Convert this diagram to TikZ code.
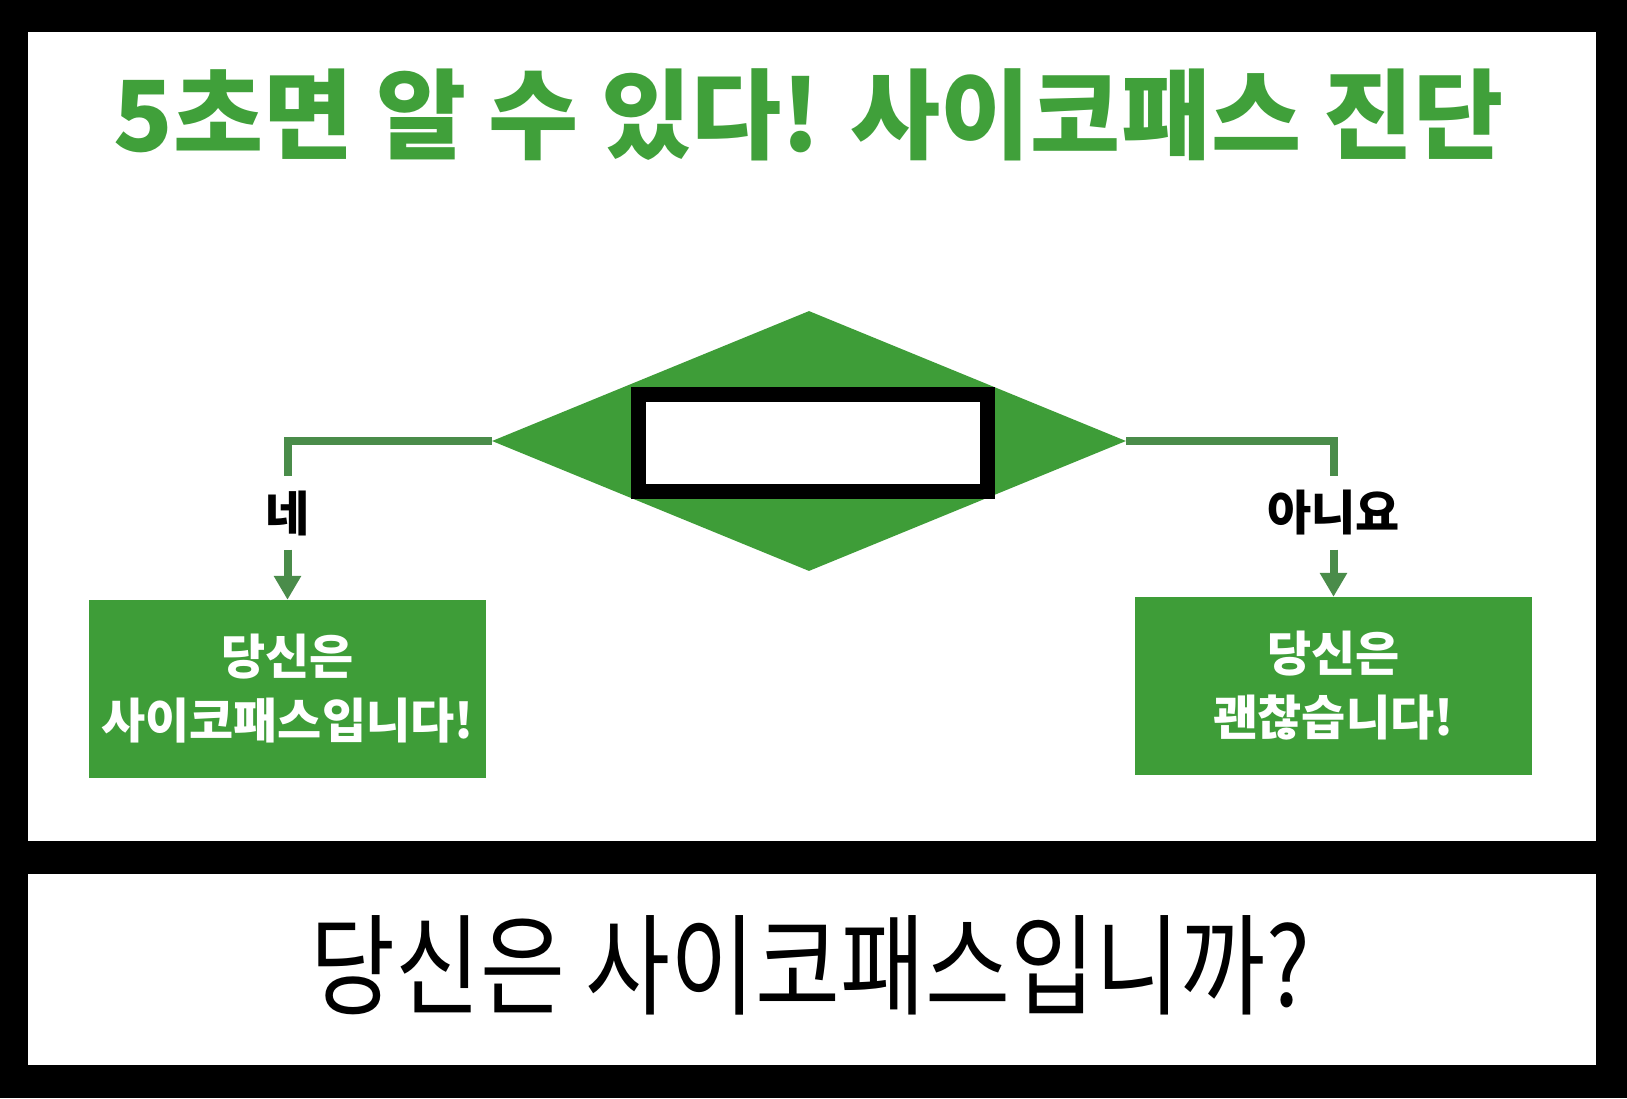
\documentclass[tikz,border=0pt]{standalone}
\usepackage{fontspec}
\usetikzlibrary{shapes.geometric,arrows.meta}
\newfontfamily\kr{Noto Sans CJK KR}
\newfontfamily\krheavy{Noto Sans CJK KR Black}
\definecolor{G}{RGB}{62,157,56}
\definecolor{T}{RGB}{64,160,58}
\definecolor{L}{RGB}{74,140,74}
\tikzset{
  answer/.style={fill=G, minimum width=397pt, minimum height=178pt, inner sep=0pt,
    text=white, align=center, font=\kr\bfseries\fontsize{48}{64}\selectfont},
  choice/.style={fill=white, inner sep=14pt, font=\kr\bfseries\fontsize{48}{48}\selectfont},
  link/.style={draw=L, line width=8pt}
}
\begin{document}
\begin{tikzpicture}[x=1pt,y=-1pt]
\fill (0,0) rectangle (1627,1098);
\fill[white] (28,32) rectangle (1596,841);
\fill[white] (28,874) rectangle (1596,1065);
\node[text=T, font=\krheavy\fontsize{98}{98}\selectfont] (title) at (809,115) {5초면 알 수 있다! 사이코패스 진단};
\node[diamond, fill=G, minimum width=634pt, minimum height=260pt, inner sep=0pt] (quiz) at (809,441) {};
\node[draw, line width=15pt, fill=white, minimum width=349pt, minimum height=97pt, inner sep=0pt] (blank) at (813,443) {};
\node[answer] (psycho) at (287.5,689) {당신은\\사이코패스입니다!};
\node[answer] (fine) at (1333.5,686) {당신은\\괜찮습니다!};
\node[choice] (yes) at (287.5,513) {네};
\node[choice] (no) at (1333.5,513) {아니요};
\draw[link] (quiz.west) -| (yes.north);
\draw[link] (quiz.east) -| (no.north);
\draw[link,-{Triangle[width=26pt,length=24pt]}] (yes.south) -- (psycho.north);
\draw[link,-{Triangle[width=26pt,length=24pt]}] (no.south) -- (fine.north);
\node[font=\kr\fontsize{110}{110}\selectfont] (ask) at (810,965) {\scalebox{0.84}[1]{당신은 사이코패스입니까?}};
\end{tikzpicture}
\end{document}
